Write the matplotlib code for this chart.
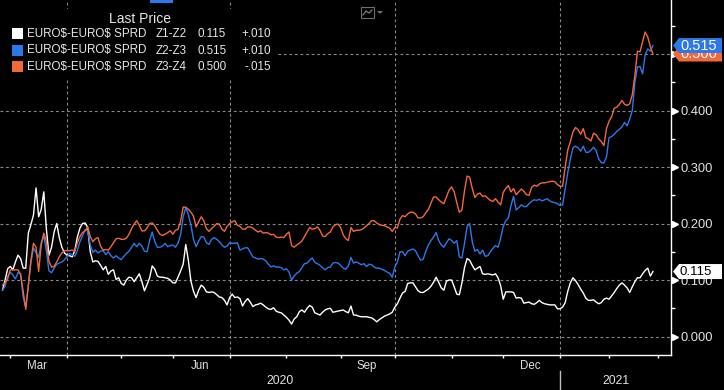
import numpy as np
import pandas as pd
import matplotlib
matplotlib.use('Agg')
import matplotlib.pyplot as plt
from matplotlib.patches import Rectangle, Polygon
from matplotlib.transforms import blended_transform_factory

plt.rcParams['font.family'] = ['Liberation Sans', 'DejaVu Sans']
plt.rcParams['text.parse_math'] = False   # the $ signs in the names are literal

# one value per trading session, starting 26 Feb 2020
start = '2020-02-26'
holidays = ['2020-04-10', '2020-05-25', '2020-07-03', '2020-09-07', '2020-11-26',
            '2020-12-25', '2021-01-01', '2021-01-18', '2021-02-15']

white = [0.082, 0.100, 0.120, 0.124, 0.118, 0.132, 0.144, 0.138, 0.121, 0.121,
         0.183, 0.198, 0.215, 0.263, 0.212, 0.225, 0.256, 0.190, 0.144, 0.158,
         0.185, 0.200, 0.175, 0.158, 0.148, 0.144, 0.143, 0.141, 0.152, 0.176,
         0.192, 0.200, 0.201, 0.193, 0.150, 0.132, 0.134, 0.133, 0.126, 0.118,
         0.124, 0.110, 0.116, 0.118, 0.101, 0.104, 0.094, 0.091, 0.100, 0.105,
         0.104, 0.097, 0.104, 0.111, 0.097, 0.081, 0.092, 0.104, 0.125, 0.119,
         0.107, 0.105, 0.105, 0.104, 0.103, 0.100, 0.095, 0.095, 0.105, 0.116,
         0.128, 0.163, 0.135, 0.098, 0.080, 0.069, 0.082, 0.091, 0.087, 0.079,
         0.078, 0.079, 0.078, 0.074, 0.070, 0.069, 0.064, 0.056, 0.069, 0.075,
         0.069, 0.070, 0.067, 0.054, 0.062, 0.067, 0.061, 0.053, 0.056, 0.057,
         0.059, 0.056, 0.052, 0.049, 0.048, 0.051, 0.045, 0.043, 0.042, 0.038,
         0.034, 0.029, 0.022, 0.031, 0.035, 0.044, 0.047, 0.043, 0.050, 0.055,
         0.052, 0.042, 0.040, 0.038, 0.043, 0.047, 0.049, 0.050, 0.043, 0.044,
         0.045, 0.046, 0.047, 0.044, 0.042, 0.054, 0.038, 0.038, 0.036, 0.035,
         0.035, 0.035, 0.034, 0.033, 0.030, 0.026, 0.030, 0.033, 0.036, 0.038,
         0.040, 0.043, 0.052, 0.058, 0.068, 0.077, 0.080, 0.094, 0.095, 0.095,
         0.088, 0.081, 0.078, 0.078, 0.081, 0.084, 0.089, 0.096, 0.105, 0.096,
         0.086, 0.082, 0.098, 0.100, 0.100, 0.088, 0.075, 0.074, 0.095, 0.122,
         0.138, 0.135, 0.126, 0.118, 0.121, 0.124, 0.111, 0.110, 0.111, 0.110,
         0.109, 0.111, 0.104, 0.090, 0.066, 0.079, 0.079, 0.079, 0.078, 0.068,
         0.069, 0.068, 0.059, 0.060, 0.061, 0.058, 0.057, 0.060, 0.064, 0.060,
         0.058, 0.057, 0.056, 0.056, 0.056, 0.049, 0.049, 0.052, 0.060, 0.080,
         0.095, 0.104, 0.099, 0.092, 0.084, 0.077, 0.068, 0.064, 0.064, 0.065,
         0.061, 0.058, 0.060, 0.066, 0.068, 0.066, 0.072, 0.078, 0.085, 0.091,
         0.095, 0.091, 0.086, 0.078, 0.088, 0.097, 0.104, 0.104, 0.111, 0.117,
         0.121, 0.107, 0.115]

blue = [0.082, 0.089, 0.106, 0.114, 0.109, 0.102, 0.113, 0.111, 0.070, 0.052,
        0.090, 0.130, 0.157, 0.148, 0.140, 0.166, 0.178, 0.152, 0.116, 0.113,
        0.121, 0.128, 0.130, 0.132, 0.136, 0.141, 0.147, 0.145, 0.142, 0.152,
        0.168, 0.178, 0.189, 0.187, 0.162, 0.149, 0.153, 0.148, 0.151, 0.152,
        0.145, 0.150, 0.143, 0.139, 0.143, 0.139, 0.136, 0.142, 0.147, 0.151,
        0.158, 0.165, 0.159, 0.165, 0.160, 0.151, 0.150, 0.170, 0.185, 0.168,
        0.158, 0.158, 0.160, 0.165, 0.159, 0.161, 0.162, 0.158, 0.165, 0.180,
        0.212, 0.228, 0.216, 0.197, 0.172, 0.159, 0.169, 0.177, 0.176, 0.166,
        0.163, 0.172, 0.175, 0.172, 0.168, 0.162, 0.158, 0.160, 0.166, 0.165,
        0.165, 0.166, 0.153, 0.155, 0.157, 0.157, 0.149, 0.141, 0.139, 0.137,
        0.138, 0.137, 0.134, 0.128, 0.123, 0.125, 0.123, 0.123, 0.122, 0.118,
        0.120, 0.114, 0.100, 0.107, 0.112, 0.115, 0.122, 0.129, 0.130, 0.135,
        0.139, 0.131, 0.129, 0.126, 0.122, 0.118, 0.122, 0.123, 0.130, 0.131,
        0.130, 0.126, 0.121, 0.119, 0.125, 0.140, 0.130, 0.132, 0.130, 0.127,
        0.129, 0.124, 0.128, 0.127, 0.123, 0.121, 0.121, 0.119, 0.117, 0.114,
        0.112, 0.105, 0.123, 0.132, 0.150, 0.150, 0.143, 0.151, 0.153, 0.155,
        0.152, 0.143, 0.135, 0.137, 0.151, 0.162, 0.170, 0.176, 0.184, 0.170,
        0.162, 0.158, 0.166, 0.173, 0.170, 0.165, 0.170, 0.141, 0.139, 0.165,
        0.195, 0.200, 0.168, 0.151, 0.154, 0.146, 0.153, 0.142, 0.143, 0.150,
        0.156, 0.161, 0.158, 0.174, 0.195, 0.205, 0.210, 0.232, 0.248, 0.224,
        0.228, 0.233, 0.230, 0.230, 0.235, 0.239, 0.242, 0.241, 0.243, 0.240,
        0.242, 0.244, 0.240, 0.238, 0.237, 0.235, 0.232, 0.233, 0.262, 0.290,
        0.314, 0.334, 0.337, 0.334, 0.328, 0.337, 0.326, 0.326, 0.330, 0.335,
        0.329, 0.314, 0.308, 0.307, 0.318, 0.352, 0.354, 0.358, 0.363, 0.367,
        0.371, 0.379, 0.373, 0.385, 0.400, 0.450, 0.477, 0.478, 0.465, 0.499,
        0.509, 0.505, 0.515]

orange = [0.091, 0.095, 0.102, 0.118, 0.118, 0.118, 0.118, 0.110, 0.080, 0.048,
          0.090, 0.135, 0.165, 0.158, 0.115, 0.162, 0.183, 0.168, 0.133, 0.123,
          0.124, 0.132, 0.141, 0.148, 0.152, 0.152, 0.152, 0.153, 0.151, 0.166,
          0.177, 0.184, 0.187, 0.194, 0.177, 0.168, 0.173, 0.175, 0.160, 0.153,
          0.154, 0.153, 0.159, 0.166, 0.173, 0.174, 0.172, 0.172, 0.174, 0.181,
          0.191, 0.199, 0.205, 0.197, 0.187, 0.187, 0.192, 0.200, 0.201, 0.196,
          0.188, 0.181, 0.179, 0.181, 0.184, 0.187, 0.181, 0.188, 0.190, 0.204,
          0.229, 0.229, 0.225, 0.220, 0.213, 0.194, 0.203, 0.212, 0.205, 0.191,
          0.186, 0.191, 0.195, 0.200, 0.199, 0.190, 0.186, 0.195, 0.200, 0.203,
          0.205, 0.197, 0.195, 0.190, 0.190, 0.194, 0.194, 0.192, 0.188, 0.185,
          0.187, 0.183, 0.184, 0.183, 0.180, 0.181, 0.176, 0.175, 0.176, 0.175,
          0.181, 0.185, 0.161, 0.158, 0.162, 0.165, 0.169, 0.177, 0.185, 0.193,
          0.190, 0.191, 0.194, 0.188, 0.178, 0.177, 0.182, 0.185, 0.194, 0.198,
          0.199, 0.193, 0.180, 0.173, 0.170, 0.193, 0.186, 0.188, 0.188, 0.189,
          0.192, 0.196, 0.200, 0.205, 0.205, 0.201, 0.198, 0.197, 0.196, 0.194,
          0.192, 0.186, 0.193, 0.192, 0.208, 0.214, 0.212, 0.217, 0.220, 0.220,
          0.217, 0.210, 0.210, 0.212, 0.219, 0.225, 0.236, 0.247, 0.247, 0.242,
          0.238, 0.235, 0.247, 0.259, 0.265, 0.256, 0.237, 0.220, 0.224, 0.258,
          0.284, 0.282, 0.262, 0.246, 0.252, 0.254, 0.248, 0.249, 0.245, 0.241,
          0.239, 0.244, 0.238, 0.233, 0.255, 0.262, 0.267, 0.256, 0.262, 0.251,
          0.256, 0.261, 0.257, 0.251, 0.250, 0.264, 0.268, 0.266, 0.270, 0.272,
          0.272, 0.273, 0.274, 0.275, 0.274, 0.269, 0.266, 0.266, 0.300, 0.330,
          0.345, 0.362, 0.370, 0.366, 0.358, 0.368, 0.352, 0.350, 0.346, 0.360,
          0.357, 0.350, 0.345, 0.338, 0.368, 0.381, 0.389, 0.404, 0.406, 0.411,
          0.418, 0.411, 0.409, 0.412, 0.428, 0.462, 0.505, 0.504, 0.522, 0.539,
          0.530, 0.513, 0.500]

names = ['EURO$-EURO$ SPRD', 'EURO$-EURO$ SPRD', 'EURO$-EURO$ SPRD']
spreads = ['Z1-Z2', 'Z2-Z3', 'Z3-Z4']
last = ['0.115', '0.515', '0.500']
chg = ['+.010', '+.010', '-.015']
colors = ['#ffffff', '#2a78ea', '#f3683a']
month_labels = ['Mar', 'Jun', 'Sep', 'Dec']

# trading calendar (session index is the x axis, like the terminal chart)
cal = pd.bdate_range(start, '2021-03-12', freq='C', holidays=holidays)
n = len(white)
x = np.arange(n)

W, H = 724, 390
fig = plt.figure(figsize=(W / 100, H / 100), dpi=100, facecolor='black')
ax = fig.add_axes([0, 35 / H, 671 / W, 355 / H])
ax.set_facecolor('black')
x0, x1 = -0.97, 259.0
ax.set_xlim(x0, x1)
ax.set_ylim(-0.0327, 0.5956)

for s in ['left', 'top']:
    ax.spines[s].set_visible(False)
for s in ['right', 'bottom']:
    ax.spines[s].set_color('white')
    ax.spines[s].set_linewidth(1.0)

# month starts
mstart = [i for i in range(1, len(cal)) if cal[i].month != cal[i - 1].month]
ax.set_xticks([i for i in mstart if i < x1])
ax.set_xticklabels([])
ax.tick_params(axis='x', length=2.5, width=1, color='white', direction='out')

grid_kw = dict(color='#8a8a8a', lw=0.8, ls=(0, (2.5, 2.5)), zorder=1)
for i in mstart:
    if cal[i].month in (1, 4, 7, 10) and i < x1:
        ax.axvline(i, **grid_kw)
yt = np.arange(0, 0.51, 0.1)
for v in yt:
    ax.axhline(v, **grid_kw)

# y axis on the right
ax.yaxis.tick_right()
ax.set_yticks(yt)
ax.set_yticklabels(['%.3f' % v for v in yt])
ax.set_yticks(np.arange(0.05, 0.56, 0.1), minor=True)
ax.tick_params(axis='y', which='major', length=0, pad=6.5, labelsize=9.3,
               labelcolor='#e2e2e2')
ax.tick_params(axis='y', which='minor', length=3, width=1, color='white',
               direction='out')
bt = blended_transform_factory(ax.transAxes, ax.transData)
ax.plot([1.006] * len(yt), yt, ls='none', marker='>', ms=4.2, color='white',
        transform=bt, clip_on=False, zorder=6)

# month / year labels
xt = blended_transform_factory(ax.transData, ax.transAxes)
for a, b in zip(mstart[:-1], mstart[1:]):
    lab = cal[a].strftime('%b')
    if lab in month_labels and cal[a].year == 2020:
        ax.text((a + b - 1) / 2, -0.031, lab, transform=xt, ha='center',
                va='center', color='#e2e2e2', fontsize=8.3)
jan = [i for i in mstart if cal[i].month == 1][0]
ax.text((x0 + jan) / 2, -0.073, '2020', transform=xt, ha='center', va='center',
        color='#e2e2e2', fontsize=8.8)
ax.text((jan + x1) / 2, -0.073, '2021', transform=xt, ha='center', va='center',
        color='#e2e2e2', fontsize=8.8)
yf = blended_transform_factory(ax.transData, fig.transFigure)
ax.plot([jan, jan], [1 - 371 / H, 0], color='#bdbdbd', lw=1, transform=yf,
        clip_on=False)

# series
for vals, c in zip([white, blue, orange], colors):
    ax.plot(x, vals, color=c, lw=1.0, zorder=3)

# last price tags
def tag(v, text, face, tcolor, size, z):
    h = 7.5 / 565
    tip, body, right = 1 + 2 / 671, 1 + 8 / 671, 1 + 51 / 671
    poly = Polygon([(tip, v), (body, v + h), (right, v + h), (right, v - h),
                    (body, v - h)], closed=True, transform=bt, facecolor=face,
                   edgecolor='none', clip_on=False, zorder=z)
    ax.add_patch(poly)
    ax.text(1 + 9 / 671, v, text, transform=bt, ha='left', va='center',
            color=tcolor, fontsize=size, clip_on=False, zorder=z + 0.5)

tag(float(last[2]), last[2], colors[2], 'white', 10.5, 7)
tag(float(last[1]), last[1], colors[1], 'white', 10.5, 8)
tag(float(last[0]), last[0], '#ffffff', 'black', 9.5, 7)

# legend box
def fx(px):
    return px / W

def fy(py):
    return 1 - py / H

fig.patches.append(Rectangle((0, fy(79)), fx(278), 70 / H, transform=fig.transFigure,
                             facecolor='black', edgecolor='none', zorder=5))
fig.text(fx(140), fy(19), 'Last Price', ha='center', va='center', color='#e6e6e6',
         fontsize=10, zorder=6)
for k in range(3):
    yy = 34 + k * 16.5
    fig.patches.append(Rectangle((fx(11.5), fy(yy + 5)), fx(11), 10.5 / H,
                                 transform=fig.transFigure, facecolor=colors[k],
                                 edgecolor='none', zorder=6))
    fig.text(fx(27), fy(yy), names[k], ha='left', va='center', color='#e6e6e6',
             fontsize=8.4, zorder=6)
    fig.text(fx(156), fy(yy), spreads[k], ha='left', va='center', color='#e6e6e6',
             fontsize=8.4, zorder=6)
    fig.text(fx(197), fy(yy), last[k], ha='left', va='center', color='#e6e6e6',
             fontsize=8.4, zorder=6)
    fig.text(fx(271), fy(yy), chg[k], ha='right', va='center', color='#e6e6e6',
             fontsize=8.4, zorder=6)

# little toolbar bits at the top
fig.patches.append(Rectangle((fx(150), fy(2.5)), fx(23), 2.5 / H, transform=fig.transFigure,
                             facecolor='#2a78ea', edgecolor='none', zorder=6))
fig.patches.append(Rectangle((fx(361), fy(18)), fx(13), 11 / H, transform=fig.transFigure,
                             facecolor='black', edgecolor='#6e6e6e', lw=0.8, zorder=6))
fig.lines.append(plt.Line2D([fx(363), fx(366), fx(369), fx(372)],
                            [fy(15), fy(11), fy(13), fy(10)], transform=fig.transFigure,
                            color='#8a8a8a', lw=0.8, zorder=7))
fig.patches.append(Polygon([(fx(377), fy(11)), (fx(383), fy(11)), (fx(380), fy(14))],
                           closed=True, transform=fig.transFigure, facecolor='#6e6e6e',
                           edgecolor='none', zorder=6))

fig.savefig('out.png', dpi=100, facecolor='black')
